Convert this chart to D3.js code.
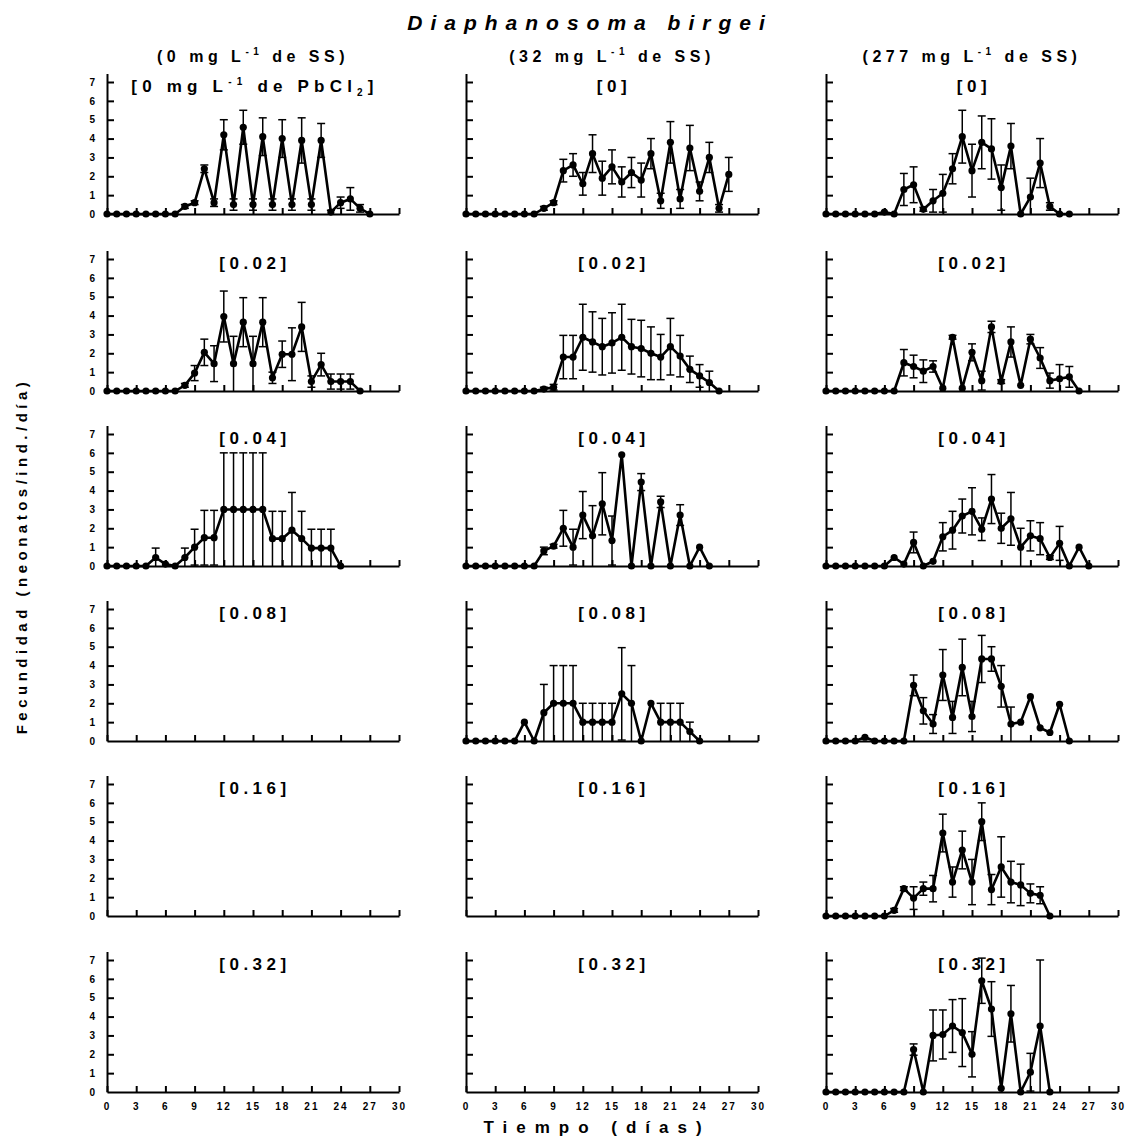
<!DOCTYPE html>
<html>
<head>
<meta charset="utf-8">
<script src="https://cdn.jsdelivr.net/npm/d3@7"></script>
<style>
  body { margin: 0; background: #fff; }
  svg { display: block; font-family: "Liberation Sans", Arial, sans-serif; font-weight: bold; }
</style>
</head>
<body>
<svg id="chart" width="1128" height="1141"></svg>
<script>
// tick values and labels
const xTicks = [0, 3, 6, 9, 12, 15, 18, 21, 24, 27, 30];
const yTicks = [0, 1, 2, 3, 4, 5, 6, 7];
const ssLevels = ["0", "32", "277"];
const pbLevels = ["0", "0.02", "0.04", "0.08", "0.16", "0.32"];

// mean fecundity per day (index = day) and its error
// column 1: 0 mg/L SS
const ss0_pb0    = [0,0,0,0,0,0,0,0,0.4,0.6,2.4,0.6,4.2,0.5,4.6,0.5,4.1,0.5,4.0,0.5,3.9,0.5,3.9,0.1,0.6,0.8,0.3,0];
const ss0_pb0_e  = [0,0,0,0,0,0,0,0,0.1,0.1,0.2,0.2,0.8,0.3,0.9,0.3,1.0,0.3,1.0,0.3,1.2,0.3,0.9,0.1,0.3,0.6,0.2,0];
const ss0_pb002   = [0,0,0,0,0,0,0,0,0.3,0.95,2.05,1.45,3.95,1.45,3.65,1.45,3.65,0.7,1.95,1.95,3.4,0.5,1.4,0.5,0.5,0.5,0];
const ss0_pb002_e = [0,0,0,0,0,0,0,0,0.1,0.4,0.7,0.95,1.35,1.45,1.3,1.45,1.3,0.3,0.7,1.4,1.3,0.3,0.6,0.4,0.4,0.4,0];
const ss0_pb004   = [0,0,0,0,0,0.45,0.1,0,0.45,1.0,1.5,1.5,3,3,3,3,3,1.45,1.45,1.9,1.45,0.95,0.95,0.95,0];
const ss0_pb004_e = [0,0,0,0,0,0.5,0,0,0.5,0.95,1.45,1.45,3,3,3,3,3,1.45,1.45,2.0,1.45,1.0,1.0,1.0,0];

// column 2: 32 mg/L SS
const ss32_pb0    = [0,0,0,0,0,0,0,0,0.3,0.6,2.3,2.6,1.6,3.2,1.9,2.5,1.7,2.2,1.8,3.2,0.7,3.8,0.8,3.5,1.2,3.0,0.3,2.1];
const ss32_pb0_e  = [0,0,0,0,0,0,0,0,0.1,0.1,0.6,0.6,0.6,1.0,0.9,0.9,0.8,0.8,0.9,0.8,0.4,1.1,0.5,1.2,0.5,0.8,0.2,0.9];
const ss32_pb002   = [0,0,0,0,0,0,0,0,0.1,0.2,1.8,1.8,2.85,2.6,2.35,2.55,2.85,2.35,2.25,2.0,1.8,2.35,1.85,1.15,0.8,0.45,0];
const ss32_pb002_e = [0,0,0,0,0,0,0,0,0.1,0.15,1.15,1.15,1.75,1.6,1.5,1.6,1.75,1.45,1.5,1.4,1.2,1.5,1.1,0.7,0.6,0.6,0];
const ss32_pb004   = [0,0,0,0,0,0,0,0,0.8,1.05,2.0,1.0,2.7,1.6,3.3,1.35,5.9,0,4.45,0,3.4,0,2.7,0,1.0,0];
const ss32_pb004_e = [0,0,0,0,0,0,0,0,0.2,0.1,0.95,0.95,1.25,1.6,1.65,1.3,0,0,0.45,0,0.3,0,0.55,0,0,0];
const ss32_pb008   = [0,0,0,0,0,0,1.0,0,1.5,2.0,2.0,2.0,1.0,1.0,1.0,1.0,2.5,2.0,0,2.0,1.0,1.0,1.0,0.5,0];
const ss32_pb008_e = [0,0,0,0,0,0,0,0,1.5,2.0,2.0,2.0,1.0,1.0,1.0,1.0,2.45,2.0,0,0,1.0,1.0,1.0,0.5,0];

// column 3: 277 mg/L SS
const ss277_pb0    = [0,0,0,0,0,0,0.1,0,1.3,1.55,0.25,0.7,1.1,2.4,4.1,2.3,3.8,3.45,1.4,3.6,0,0.9,2.7,0.4,0,0];
const ss277_pb0_e  = [0,0,0,0,0,0,0,0,0.85,0.95,0.1,0.6,1.0,0.8,1.4,1.4,1.4,1.6,1.2,1.2,0,1.0,1.3,0.2,0,0];
const ss277_pb002   = [0,0,0,0,0,0,0,0,1.5,1.3,1.05,1.3,0.15,2.85,0.15,2.05,0.55,3.4,0.5,2.6,0.3,2.75,1.75,0.55,0.65,0.75,0];
const ss277_pb002_e = [0,0,0,0,0,0,0,0,0.7,0.6,0.6,0.3,0,0.1,0,0.45,0.5,0.3,0.1,0.8,0,0.25,0.55,0.4,0.75,0.55,0];
const ss277_pb004   = [0,0,0,0,0,0,0,0.45,0.1,1.25,0,0.25,1.55,1.9,2.65,2.9,1.95,3.55,2.0,2.5,1.0,1.6,1.45,0.45,1.2,0,1.0,0];
const ss277_pb004_e = [0,0,0,0,0,0,0,0,0,0.55,0,0,0.75,1.0,0.9,1.25,0.6,1.3,0.8,1.4,1.0,0.8,0.85,0.1,0.9,0,0,0];
const ss277_pb008   = [0,0,0,0,0.2,0,0,0,0,2.95,1.6,0.9,3.5,1.25,3.9,1.3,4.35,4.35,2.9,0.9,1.0,2.35,0.7,0.45,1.95,0];
const ss277_pb008_e = [0,0,0,0,0,0,0,0,0,0.55,0.7,0.5,1.35,0.85,1.5,0.8,1.25,0.65,1.1,0.9,0,0,0,0,0,0];
const ss277_pb016   = [0,0,0,0,0,0,0,0.3,1.45,0.95,1.45,1.45,4.4,1.8,3.5,1.8,5.0,1.4,2.6,1.8,1.65,1.2,1.1,0];
const ss277_pb016_e = [0,0,0,0,0,0,0,0.1,0.1,0.6,0.35,0.7,1.0,0.8,1.0,1.2,1.0,0.8,1.6,1.1,1.1,0.5,0.45,0];
const ss277_pb032   = [0,0,0,0,0,0,0,0,0,2.25,0,3.0,3.05,3.5,3.15,2.0,5.9,4.4,0.2,4.15,0,1.05,3.5,0];
const ss277_pb032_e = [0,0,0,0,0,0,0,0,0,0.3,0,1.35,1.3,1.4,1.8,1.2,1.2,1.45,0,1.5,0,1.0,3.5,0];

// grid of panels [row][col]; empty arrays = no survivors
const panels = [
  [[ss0_pb0, ss0_pb0_e], [ss32_pb0, ss32_pb0_e], [ss277_pb0, ss277_pb0_e]],
  [[ss0_pb002, ss0_pb002_e], [ss32_pb002, ss32_pb002_e], [ss277_pb002, ss277_pb002_e]],
  [[ss0_pb004, ss0_pb004_e], [ss32_pb004, ss32_pb004_e], [ss277_pb004, ss277_pb004_e]],
  [[[], []], [ss32_pb008, ss32_pb008_e], [ss277_pb008, ss277_pb008_e]],
  [[[], []], [[], []], [ss277_pb016, ss277_pb016_e]],
  [[[], []], [[], []], [ss277_pb032, ss277_pb032_e]]
];

// layout
const axisX = [107, 466, 826];
const plotW = 292;
const rowBase = [214, 391, 566, 741, 916, 1092];
const plotH = 132;   // height of 0..7

const svg = d3.select("#chart");
svg.append("rect").attr("width", 1128).attr("height", 1141).attr("fill", "#fff");

// text with super/subscript pieces
function richText(sel, parts, supSize) {
  let back = 0;
  parts.forEach((p) => {
    if (typeof p === "string") {
      sel.append("tspan").attr("dy", back).text(p);
      back = 0;
    } else {
      const dy = p.sup ? -7 : 4;
      sel.append("tspan").attr("dy", dy).attr("font-size", supSize).text(p.t);
      back = -dy;
    }
  });
  return sel;
}

// title
svg.append("text")
  .attr("x", 590).attr("y", 30)
  .attr("text-anchor", "middle")
  .attr("font-size", 21).attr("font-style", "italic")
  .style("letter-spacing", "8px")
  .text("Diaphanosoma birgei");

// column headers
ssLevels.forEach((ss, c) => {
  const t = svg.append("text")
    .attr("x", axisX[c] + plotW / 2).attr("y", 62)
    .attr("text-anchor", "middle")
    .attr("font-size", 16)
    .style("letter-spacing", "4.5px");
  richText(t, ["(" + ss + " mg L", { t: "-1", sup: true }, " de SS)"], 10);
});

// axis titles
svg.append("text")
  .attr("transform", "translate(27,556) rotate(-90)")
  .attr("text-anchor", "middle")
  .attr("font-size", 15)
  .style("letter-spacing", "4.5px")
  .text("Fecundidad (neonatos/ind./día)");

svg.append("text")
  .attr("x", 597).attr("y", 1133)
  .attr("text-anchor", "middle")
  .attr("font-size", 17)
  .style("letter-spacing", "9px")
  .text("Tiempo (días)");

const line = d3.line();

panels.forEach((rowPanels, r) => {
  rowPanels.forEach(([mean, err], c) => {
    const x = d3.scaleLinear().domain([0, 30]).range([axisX[c], axisX[c] + plotW]);
    const y = d3.scaleLinear().domain([0, 7]).range([rowBase[r], rowBase[r] - plotH]);
    const yAxisScale = d3.scaleLinear().domain([0, 7.45]).range([y(0), y(7.45)]);
    const g = svg.append("g");

    // y axis with inward ticks
    g.append("g")
      .attr("transform", `translate(${axisX[c]},0)`)
      .call(d3.axisRight(yAxisScale).tickValues(yTicks.slice(1)).tickSize(7).tickSizeOuter(0).tickFormat(""))
      .call((a) => a.selectAll("path,line").attr("stroke", "#000").attr("stroke-width", 2));

    if (c === 0) {
      g.append("g")
        .attr("transform", `translate(${axisX[c]},0)`)
        .call(d3.axisLeft(y).tickValues(yTicks).tickSize(0).tickPadding(12).tickFormat(d3.format("d")))
        .call((a) => a.select(".domain").remove())
        .call((a) => a.selectAll("text").attr("font-size", 10).attr("font-weight", "bold")
          .attr("font-family", "Liberation Sans, Arial, sans-serif"));
    }

    // x axis with inward ticks
    g.append("g")
      .attr("transform", `translate(0,${rowBase[r]})`)
      .call(d3.axisTop(x).tickValues(xTicks).tickSize(6).tickSizeOuter(0).tickFormat(""))
      .call((a) => a.selectAll("path,line").attr("stroke", "#000").attr("stroke-width", 2));

    if (r === panels.length - 1) {
      g.append("g")
        .attr("transform", `translate(0,${rowBase[r]})`)
        .call(d3.axisBottom(x).tickValues(xTicks).tickSize(0).tickPadding(11))
        .call((a) => a.select(".domain").remove())
        .call((a) => a.selectAll("text").attr("font-size", 10).attr("font-weight", "bold")
          .attr("font-family", "Liberation Sans, Arial, sans-serif")
          .style("letter-spacing", "2px"));
    }

    // panel label
    const first = r === 0 && c === 0;
    const lab = g.append("text")
      .attr("x", axisX[c] + plotW / 2 + 2).attr("y", y(7) + 10)
      .attr("text-anchor", "middle")
      .attr("font-size", 17)
      .style("letter-spacing", first ? "5.2px" : "4.5px");
    if (first) {
      richText(lab, ["[0 mg L", { t: "-1", sup: true }, " de PbCl", { t: "2", sup: false }, "]"], 10);
    } else {
      lab.text("[" + pbLevels[r] + "]");
    }

    if (!mean.length) return;
    const pts = mean.map((v, d) => [d, v]);

    // error bars
    const eb = g.append("g").attr("stroke", "#000").attr("stroke-width", 1.5);
    pts.forEach(([d, v]) => {
      const e = err[d];
      if (!e) return;
      const lo = Math.max(0, v - e), hi = v + e;
      eb.append("line").attr("x1", x(d)).attr("x2", x(d)).attr("y1", y(lo)).attr("y2", y(hi));
      eb.append("line").attr("x1", x(d) - 4).attr("x2", x(d) + 4).attr("y1", y(hi)).attr("y2", y(hi));
      if (lo > 0) eb.append("line").attr("x1", x(d) - 4).attr("x2", x(d) + 4).attr("y1", y(lo)).attr("y2", y(lo));
    });

    g.append("path")
      .attr("d", line(pts.map(([d, v]) => [x(d), y(v)])))
      .attr("fill", "none").attr("stroke", "#000").attr("stroke-width", 2.6)
      .attr("stroke-linejoin", "round");

    g.selectAll("circle.pt").data(pts).join("circle")
      .attr("class", "pt")
      .attr("cx", (p) => x(p[0])).attr("cy", (p) => y(p[1]))
      .attr("r", 3.6).attr("fill", "#000");
  });
});
</script>
</body>
</html>
